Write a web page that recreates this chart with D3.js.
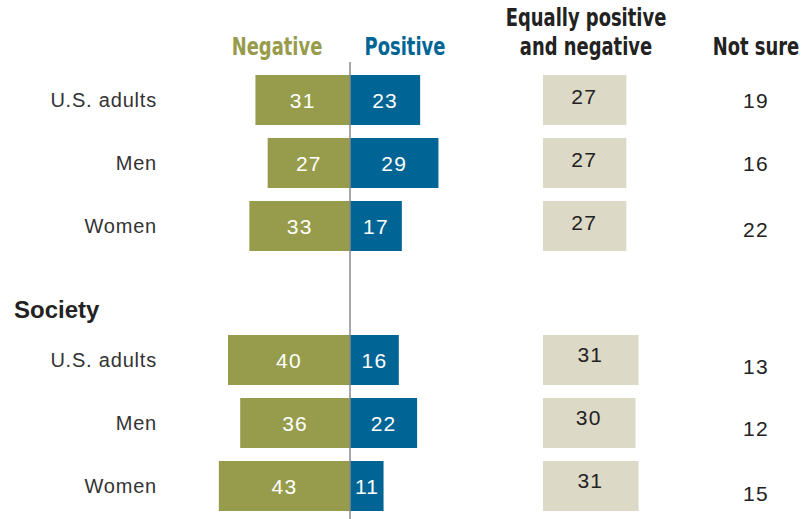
<!DOCTYPE html>
<html><head><meta charset="utf-8">
<script src="https://cdn.jsdelivr.net/npm/d3@7"></script>
<style>body{margin:0;background:#fff}svg{display:block}</style>
</head><body>
<svg id="c" width="811" height="519"></svg>
<script>
const groups = ["Self", "Self", "Self", "Society", "Society", "Society"];
const categories = ["U.S. adults", "Men", "Women", "U.S. adults", "Men", "Women"];
const negative = [31, 27, 33, 40, 36, 43];
const positive = [23, 29, 17, 16, 22, 11];
const equally = [27, 27, 27, 31, 30, 31];
const notSure = [19, 16, 22, 13, 12, 15];
const headers = ["Negative", "Positive", "Equally positive", "and negative", "Not sure"];
const sectionLabel = "Society";

const svg = d3.select("#c");
const W = 811, H = 519;
const green = "#969c4b", blue = "#006595", beige = "#dcd9c6";
const labelFont = "'Liberation Sans', Arial, sans-serif";
const headFont = "'DejaVu Sans Condensed', 'Liberation Sans', sans-serif";

const ids = d3.range(categories.length);
const rowY = d3.scaleOrdinal().domain(ids).range([75, 138, 201, 335, 398, 461]);
const barH = 50;
const x = d3.scaleLinear().domain([0, 100]).range([0, 305]);
const x0 = 350;
const eqX = 543;
const nsX = 756;

svg.append("g").selectAll("rect").data(ids).join("rect")
  .attr("x", i => x0 - x(negative[i])).attr("y", i => rowY(i))
  .attr("width", i => x(negative[i])).attr("height", barH).attr("fill", green);
svg.append("g").selectAll("rect").data(ids).join("rect")
  .attr("x", x0).attr("y", i => rowY(i))
  .attr("width", i => x(positive[i])).attr("height", barH).attr("fill", blue);
svg.append("g").selectAll("rect").data(ids).join("rect")
  .attr("x", eqX).attr("y", i => rowY(i))
  .attr("width", i => x(equally[i]) + 1).attr("height", barH).attr("fill", beige);

const numStyle = s => s.attr("font-family", labelFont).attr("font-size", 21)
  .attr("letter-spacing", 1.2).attr("text-anchor", "middle");

svg.append("g").selectAll("text").data(ids).join("text").call(numStyle)
  .attr("x", i => x0 - x(negative[i]) / 2).attr("y", i => rowY(i) + barH / 2 + 8)
  .attr("fill", "#fff").text(i => negative[i]);
svg.append("g").selectAll("text").data(ids).join("text").call(numStyle)
  .attr("x", i => x0 + Math.max(x(positive[i]) / 2, 17)).attr("y", i => rowY(i) + barH / 2 + 8)
  .attr("fill", "#fff").text(i => positive[i]);
svg.append("g").selectAll("text").data(ids).join("text").call(numStyle)
  .attr("x", i => eqX + x(equally[i]) / 2).attr("y", i => rowY(i) + barH / 2 + (i < 3 ? 4 : 2))
  .attr("fill", "#222").text(i => equally[i]);
svg.append("g").selectAll("text").data(ids).join("text").call(numStyle)
  .attr("x", nsX).attr("y", i => rowY(i) + barH / 2 + [8, 8, 11, 14, 13, 15][i])
  .attr("fill", "#222").text(i => notSure[i]);

svg.append("g").selectAll("text").data(ids).join("text")
  .attr("font-family", labelFont).attr("font-size", 20).attr("letter-spacing", 0.8)
  .attr("text-anchor", "end")
  .attr("x", 157).attr("y", i => rowY(i) + barH / 2 + 7).attr("fill", "#333")
  .text(i => categories[i]);

svg.append("text").attr("x", 14).attr("y", 318).attr("font-family", labelFont)
  .attr("font-weight", "bold").attr("font-size", 24).attr("fill", "#222").text(sectionLabel);

svg.append("line").attr("x1", x0).attr("x2", x0).attr("y1", 62).attr("y2", H)
  .attr("stroke", "#8a8a8a").attr("stroke-width", 1.5);

const hd = svg.append("g").attr("font-family", headFont).attr("font-weight", "bold")
  .attr("font-size", 24).attr("text-anchor", "middle");
const heads = [
  {t: headers[0], x: 277, y: 55, c: green},
  {t: headers[1], x: 405, y: 55, c: blue},
  {t: headers[2], x: 586, y: 26, c: "#222"},
  {t: headers[3], x: 586, y: 55, c: "#222"},
  {t: headers[4], x: 756, y: 55, c: "#222"}
];
hd.selectAll("text").data(heads).join("text")
  .attr("transform", d => `translate(${d.x},${d.y}) scale(0.83,1)`)
  .attr("fill", d => d.c).text(d => d.t);
</script>
</body></html>
